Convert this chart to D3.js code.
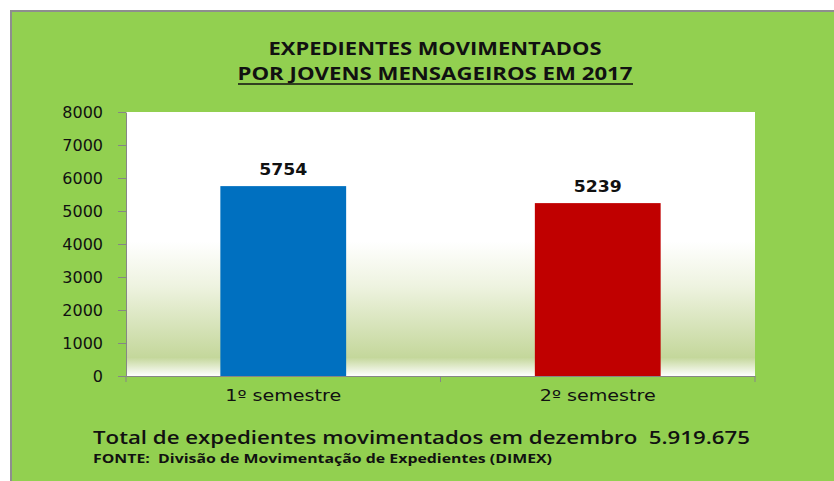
<!DOCTYPE html>
<html>
<head>
<meta charset="utf-8">
<script src="https://cdn.jsdelivr.net/npm/d3@7"></script>
<style>
  body { margin: 0; background: #fff; }
  svg { display: block; }
  text { white-space: pre; }
</style>
</head>
<body>
<div id="chart"></div>
<script>
// data
const categories = ["1º semestre", "2º semestre"];
const values = [5754, 5239];
const barColors = ["#0070C0", "#C00000"];
const yTicks = [0, 1000, 2000, 3000, 4000, 5000, 6000, 7000, 8000];
const titleLines = ["EXPEDIENTES MOVIMENTADOS", "POR JOVENS MENSAGEIROS EM 2017"];
const totalText = "Total de expedientes movimentados em dezembro  5.919.675";
const sourceText = "FONTE:  Divisão de Movimentação de Expedientes (DIMEX)";

const width = 834, height = 481;
const plot = { left: 126, right: 755, top: 112, bottom: 376 };

const svg = d3.select("#chart").append("svg")
  .attr("width", width)
  .attr("height", height);

// green background with grey edge
svg.append("rect")
  .attr("x", 10).attr("y", 10)
  .attr("width", width - 10).attr("height", height - 10)
  .attr("fill", "#92D050");
svg.append("path")
  .attr("d", `M11,${height} V11 H${width}`)
  .attr("fill", "none")
  .attr("stroke", "#8e8e8e")
  .attr("stroke-width", 2);

// plot area gradient
const defs = svg.append("defs");
const grad = defs.append("linearGradient")
  .attr("id", "plotGrad")
  .attr("x1", 0).attr("y1", 0).attr("x2", 0).attr("y2", 1);
[[0, "#ffffff"], [0.49, "#ffffff"], [0.66, "#eef3e0"], [0.93, "#c4d79b"], [1, "#ffffff"]]
  .forEach(([o, c]) => grad.append("stop").attr("offset", o).attr("stop-color", c));

svg.append("rect")
  .attr("x", plot.left).attr("y", plot.top)
  .attr("width", plot.right - plot.left)
  .attr("height", plot.bottom - plot.top)
  .attr("fill", "url(#plotGrad)");

// scales
const x = d3.scaleBand()
  .domain(categories)
  .range([plot.left, plot.right])
  .paddingInner(0.6)
  .paddingOuter(0.3);

const y = d3.scaleLinear()
  .domain([0, 8000])
  .range([plot.bottom, plot.top]);

// bars
svg.selectAll(".bar")
  .data(values)
  .enter().append("rect")
  .attr("class", "bar")
  .attr("x", (d, i) => x(categories[i]))
  .attr("y", d => y(d))
  .attr("width", x.bandwidth())
  .attr("height", d => y(0) - y(d))
  .attr("fill", (d, i) => barColors[i]);

// value labels
svg.selectAll(".val")
  .data(values)
  .enter().append("text")
  .attr("class", "val")
  .attr("x", (d, i) => x(categories[i]) + x.bandwidth() / 2)
  .attr("y", d => y(d) - 11)
  .attr("text-anchor", "middle")
  .attr("font-family", "DejaVu Sans")
  .attr("font-weight", "bold")
  .attr("font-size", 16)
  .attr("textLength", 48)
  .attr("lengthAdjust", "spacingAndGlyphs")
  .attr("fill", "#111")
  .text(d => d);

// y axis
const yAxis = svg.append("g")
  .attr("transform", `translate(${plot.left},0)`)
  .call(d3.axisLeft(y).tickValues(yTicks).tickFormat(d3.format("d"))
    .tickSize(8).tickSizeOuter(0).tickPadding(15));
yAxis.select(".domain").attr("stroke", "#868686");
yAxis.selectAll(".tick line").attr("stroke", "#868686");
yAxis.selectAll(".tick text")
  .attr("font-family", "DejaVu Sans")
  .attr("font-size", 16)
  .attr("fill", "#111");

// x axis
const xAxis = svg.append("g")
  .attr("transform", `translate(0,${plot.bottom})`)
  .call(d3.axisBottom(x).tickSize(0).tickSizeOuter(0).tickPadding(14));
xAxis.select(".domain").attr("stroke", "#868686");
xAxis.selectAll(".tick text")
  .attr("font-family", "DejaVu Sans")
  .attr("font-size", 16)
  .attr("fill", "#111")
  .attr("textLength", 116)
  .attr("lengthAdjust", "spacingAndGlyphs");

// category separators on x axis
const sepX = [plot.left, plot.left + (plot.right - plot.left) / 2, plot.right];
xAxis.selectAll(".sep")
  .data(sepX)
  .enter().append("line")
  .attr("x1", d => d).attr("x2", d => d)
  .attr("y1", 0).attr("y2", 6)
  .attr("stroke", "#868686");

// title
svg.selectAll(".title")
  .data(titleLines)
  .enter().append("text")
  .attr("class", "title")
  .attr("x", 435)
  .attr("y", (d, i) => 55 + i * 25)
  .attr("text-anchor", "middle")
  .attr("font-family", "Open Sans")
  .attr("font-weight", "bold")
  .attr("font-size", 17)
  .attr("textLength", (d, i) => i === 0 ? 333 : 395)
  .attr("lengthAdjust", "spacingAndGlyphs")
  .attr("fill", "#111")
  .text(d => d);

svg.append("line")
  .attr("x1", 238).attr("x2", 633)
  .attr("y1", 84).attr("y2", 84)
  .attr("stroke", "#111")
  .attr("stroke-width", 1.5);

// footer
svg.append("text")
  .attr("x", 93).attr("y", 444)
  .attr("font-family", "Open Sans")
  .attr("font-weight", 600)
  .attr("font-size", 18)
  .attr("textLength", 657)
  .attr("lengthAdjust", "spacingAndGlyphs")
  .attr("fill", "#111")
  .text(totalText);

svg.append("text")
  .attr("x", 93).attr("y", 463)
  .attr("font-family", "Open Sans")
  .attr("font-weight", "bold")
  .attr("font-size", 11.5)
  .attr("textLength", 459)
  .attr("lengthAdjust", "spacingAndGlyphs")
  .attr("fill", "#111")
  .text(sourceText);
</script>
</body>
</html>
